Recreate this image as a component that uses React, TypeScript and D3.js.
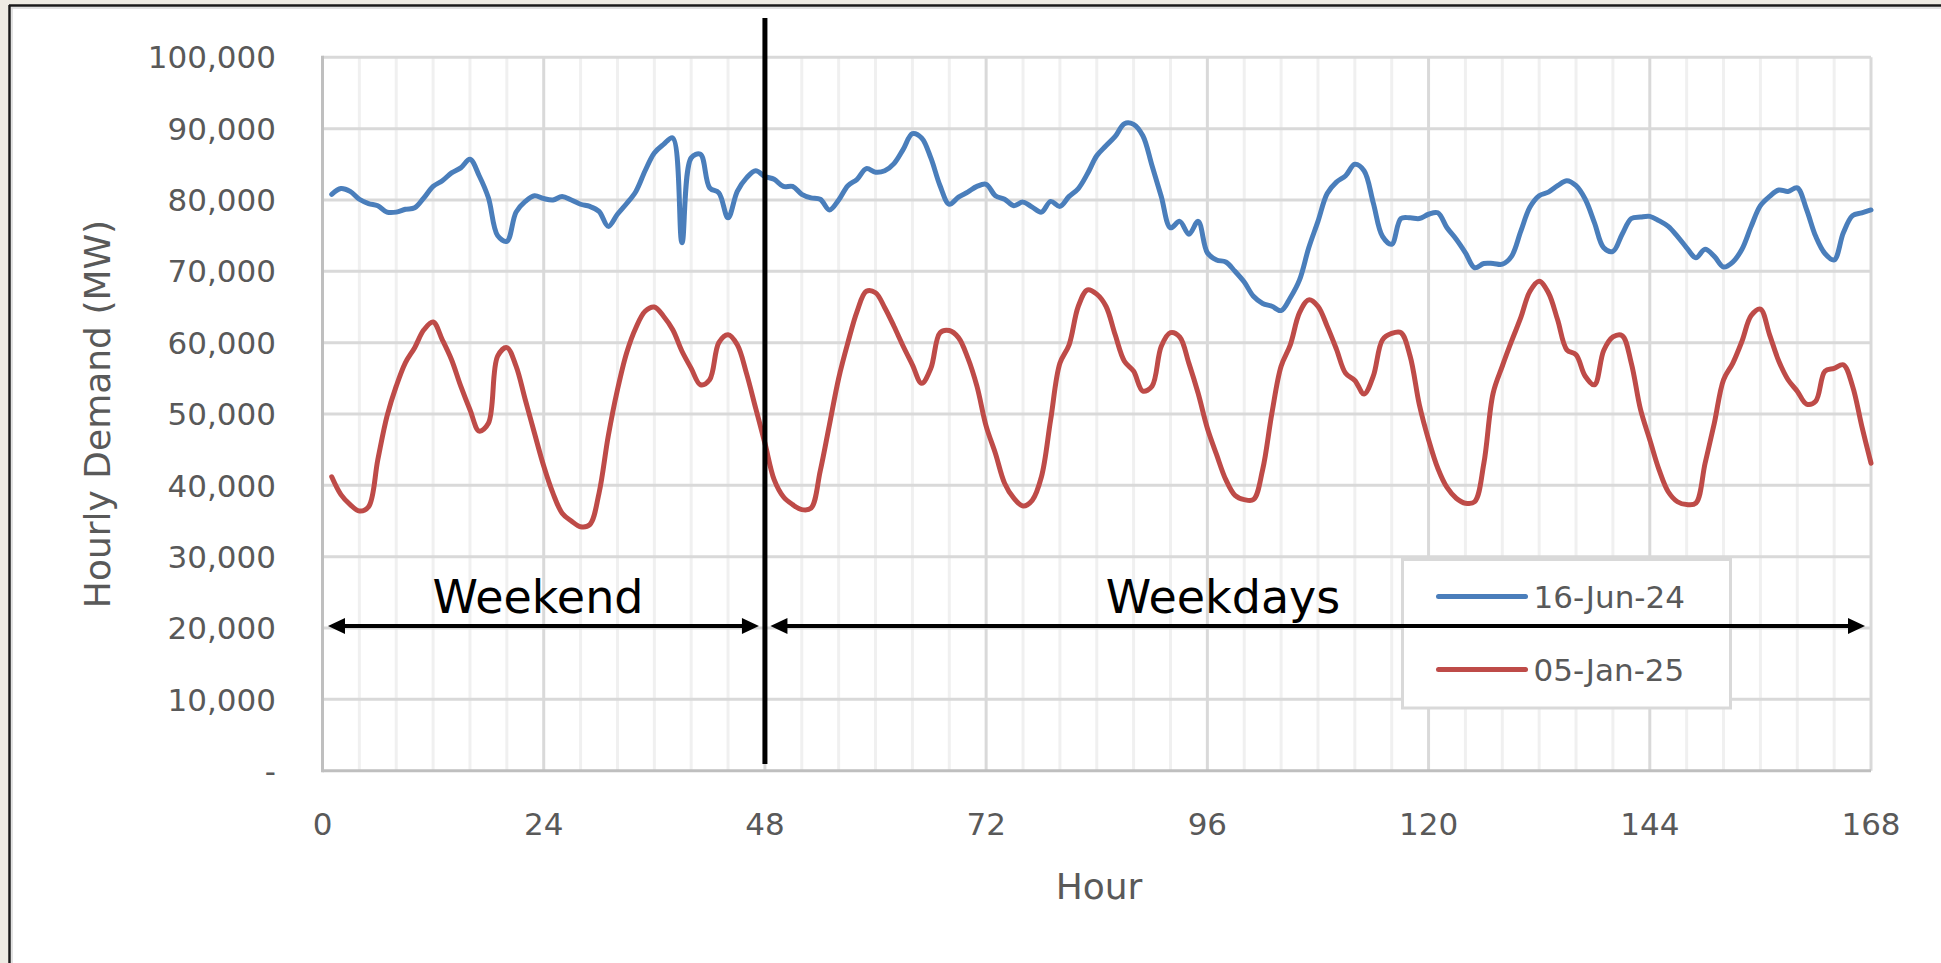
import React from 'react';
import * as d3 from 'd3';

// Hour index of each observation (1..168)
const hours = d3.range(1, 169);

// Hourly demand, MW — week starting 16-Jun-24
const demandJun24 = [
  80800, 81600, 81200, 80100, 79500, 79200, 78300, 78300, 78700, 78900,
  80300, 81900, 82700, 83800, 84500, 85700, 83400, 80300, 75000, 74200,
  78300, 79800, 80600, 80200, 80000, 80500, 80000, 79400, 79100, 78400,
  76300, 78000, 79500, 81200, 84100, 86600, 87800, 88700, 74000, 85900,
  86400, 81700, 81000, 77500, 81200, 83100, 84100, 83300, 82900, 81900,
  81900, 80800, 80300, 80100, 78600, 80000, 82000, 82900, 84400, 83900,
  84100, 85100, 87100, 89300, 88700, 85900, 82000, 79400, 80400, 81100,
  81900, 82200, 80600, 80100, 79200, 79700, 79000, 78300, 79800, 79100,
  80500, 81600, 83700, 86200, 87600, 88900, 90700, 90600, 89000, 84800,
  80500, 76100, 77000, 75200, 77000, 72600, 71600, 71300, 70000, 68500,
  66500, 65500, 65100, 64500, 66300, 68800, 73300, 77000, 80900, 82500,
  83400, 85000, 84100, 79600, 74900, 73800, 77400, 77500, 77400, 78000,
  78200, 76100, 74500, 72600, 70500, 71100, 71100, 71000, 72100, 75600,
  79000, 80600, 81100, 82000, 82700, 82000, 80100, 76800, 73300, 72800,
  75200, 77400, 77600, 77700, 77100, 76300, 74900, 73300, 71900, 73100,
  72100, 70600, 71300, 73100, 76300, 79200, 80500, 81400, 81200, 81700,
  78700, 74900, 72500, 71600, 75400, 77800, 78200, 78600,
];

// Hourly demand, MW — week starting 05-Jan-25
const demandJan25 = [
  41200, 38700, 37300, 36400, 37000, 43600, 49700, 53900, 57200, 59300,
  61800, 62900, 60400, 57600, 53900, 50600, 47600, 48700, 58100, 59300,
  56700, 52000, 47300, 42700, 38900, 36100, 35000, 34200, 34500, 38900,
  46900, 53400, 58600, 62100, 64400, 65000, 63700, 61800, 58800, 56400,
  54100, 54800, 60000, 61100, 59700, 55700, 50800, 45900, 40800, 38400,
  37300, 36600, 36800, 42000, 48500, 55000, 60000, 64400, 67200, 67000,
  64900, 62300, 59500, 56900, 54300, 56400, 61400, 61700, 60700, 57900,
  53900, 48300, 44500, 40300, 38200, 37100, 37900, 41200, 49200, 57100,
  59700, 65100, 67400, 66800, 65100, 61100, 57400, 56000, 53200, 53900,
  59500, 61400, 60800, 57100, 52900, 48000, 44300, 40800, 38600, 38000,
  38000, 42200, 50100, 56700, 59700, 64200, 66000, 65100, 62300, 59100,
  55700, 54700, 52800, 55300, 60400, 61300, 61400, 58100, 51300, 46400,
  42400, 39700, 38200, 37500, 37700, 43100, 52900, 56700, 60200, 63500,
  67200, 68600, 67000, 63200, 59000, 58300, 55300, 54100, 58900, 60800,
  61000, 57100, 50600, 46400, 42200, 39100, 37700, 37300, 37500, 43100,
  48700, 54800, 57100, 60200, 63800, 64700, 61100, 57400, 54800, 53200,
  51400, 51800, 56000, 56400, 56900, 53900, 48300, 43100,
];

const seriesNames = ['16-Jun-24', '05-Jan-25'];
const seriesColors = ['#4a7ebb', '#be4b48'];
const yTicks = [0, 10000, 20000, 30000, 40000, 50000, 60000, 70000, 80000, 90000, 100000];
const xMajorTicks = [0, 24, 48, 72, 96, 120, 144, 168];
const xMinorTicks = d3.range(0, 169, 4);
const periodLabels = ['Weekend', 'Weekdays'];
const periodBounds = [[0, 48], [48, 168]];
const splitHour = 48;
const arrowLevel = 20000;

const FONT = '"DejaVu Sans", Verdana, sans-serif';

export default function App() {
  React.useEffect(() => {
    document.body.style.margin = '0';
  }, []);

  const W = 1941;
  const H = 963;
  const x = d3.scaleLinear().domain([0, 168]).range([322.5, 1871]);
  const y = d3.scaleLinear().domain([0, 100000]).range([770.7, 57.3]);

  const line = d3
    .line<number>()
    .x((_, i) => x(hours[i]))
    .y((d) => y(d))
    .curve(d3.curveCatmullRom.alpha(0.5));

  const fmt = (v: number) => (v === 0 ? '-' : d3.format(',')(v));
  const arrowY = y(arrowLevel) - 2;

  const arrow = (x1: number, x2: number, key: string) => {
    const hl = 17;
    const hw = 8;
    return (
      <g key={key}>
        <line x1={x1 + hl - 2} x2={x2 - hl + 2} y1={arrowY} y2={arrowY} stroke="#000" strokeWidth={4} />
        <polygon points={`${x1},${arrowY} ${x1 + hl},${arrowY - hw} ${x1 + hl},${arrowY + hw}`} fill="#000" />
        <polygon points={`${x2},${arrowY} ${x2 - hl},${arrowY - hw} ${x2 - hl},${arrowY + hw}`} fill="#000" />
      </g>
    );
  };

  const legendX = 1402.5;
  const legendY = 559.5;
  const legendW = 328;
  const legendH = 148.5;

  return (
    <div style={{ position: 'absolute', left: 0, top: 0 }}>
      <svg width={W} height={H} style={{ display: 'block' }}>
        <rect x={0} y={0} width={W} height={H} fill="#eeebe3" />
        <rect x={10} y={6} width={W - 10} height={H - 6} fill="#ffffff" />
        <line x1={9.5} x2={9.5} y1={5} y2={H} stroke="#1a1a1a" strokeWidth={2.5} />
        <line x1={9} x2={W} y1={5.5} y2={5.5} stroke="#1a1a1a" strokeWidth={2.5} />
        <line x1={11} x2={W} y1={8} y2={8} stroke="#d8d8d8" strokeWidth={1.5} />
        <line x1={12} x2={12} y1={8} y2={H} stroke="#d8d8d8" strokeWidth={1.5} />

        {/* minor vertical gridlines */}
        {xMinorTicks.filter((t) => t % 24 !== 0).map((t) => (
          <line key={'mv' + t} x1={x(t)} x2={x(t)} y1={y(100000)} y2={y(0)} stroke="#f0f0f0" strokeWidth={3} />
        ))}
        {/* horizontal gridlines */}
        {yTicks.filter((t) => t > 0).map((t) => (
          <line key={'h' + t} x1={x(0)} x2={x(168)} y1={y(t)} y2={y(t)} stroke="#d9d9d9" strokeWidth={3} />
        ))}
        {/* major vertical gridlines */}
        {xMajorTicks.filter((t) => t > 0).map((t) => (
          <line key={'Mv' + t} x1={x(t)} x2={x(t)} y1={y(100000)} y2={y(0)} stroke="#d9d9d9" strokeWidth={3} />
        ))}
        {/* axes */}
        <line x1={x(0)} x2={x(0)} y1={y(100000) - 1.5} y2={y(0) + 1.5} stroke="#bfbfbf" strokeWidth={3} />
        <line x1={x(0)} x2={x(168)} y1={y(0)} y2={y(0)} stroke="#bfbfbf" strokeWidth={3} />

        {/* y tick labels */}
        {yTicks.map((t) => (
          <text key={'yt' + t} x={276} y={y(t)} dy="0.36em" textAnchor="end" fontFamily={FONT} fontSize={31} fill="#595959">
            {fmt(t)}
          </text>
        ))}
        {/* x tick labels */}
        {xMajorTicks.map((t) => (
          <text key={'xt' + t} x={x(t)} y={835} textAnchor="middle" fontFamily={FONT} fontSize={31} fill="#595959">
            {t}
          </text>
        ))}

        {/* axis titles */}
        <text x={1099} y={899} textAnchor="middle" fontFamily={FONT} fontSize={36} fill="#595959">Hour</text>
        <text transform={`translate(110,${(y(0) + y(100000)) / 2}) rotate(-90)`} textAnchor="middle" fontFamily={FONT} fontSize={36} fill="#595959">
          Hourly Demand (MW)
        </text>

        {/* series */}
        <path d={line(demandJun24) || ''} fill="none" stroke={seriesColors[0]} strokeWidth={5} strokeLinejoin="round" strokeLinecap="round" />
        <path d={line(demandJan25) || ''} fill="none" stroke={seriesColors[1]} strokeWidth={5} strokeLinejoin="round" strokeLinecap="round" />

        {/* legend */}
        <rect x={legendX} y={legendY} width={legendW} height={legendH} fill="#ffffff" stroke="#d9d9d9" strokeWidth={3} />
        {seriesNames.map((name, i) => {
          const cy = legendY + 37 + i * 73;
          return (
            <g key={name}>
              <line x1={legendX + 36} x2={legendX + 123} y1={cy} y2={cy} stroke={seriesColors[i]} strokeWidth={5} strokeLinecap="round" />
              <text x={legendX + 131} y={cy} dy="0.36em" fontFamily={FONT} fontSize={31} fill="#595959">{name}</text>
            </g>
          );
        })}

        {/* split line */}
        <line x1={x(splitHour)} x2={x(splitHour)} y1={18} y2={764} stroke="#000" strokeWidth={5} />

        {/* period arrows and labels */}
        {arrow(x(periodBounds[0][0]) + 5.5, x(periodBounds[0][1]) - 6, 'a0')}
        {arrow(x(periodBounds[1][0]) + 5.5, x(periodBounds[1][1]) - 6, 'a1')}
        <text x={538} y={613} textAnchor="middle" fontFamily={FONT} fontSize={46} fill="#000">{periodLabels[0]}</text>
        <text x={1223} y={613} textAnchor="middle" fontFamily={FONT} fontSize={46} fill="#000">{periodLabels[1]}</text>
      </svg>
    </div>
  );
}
